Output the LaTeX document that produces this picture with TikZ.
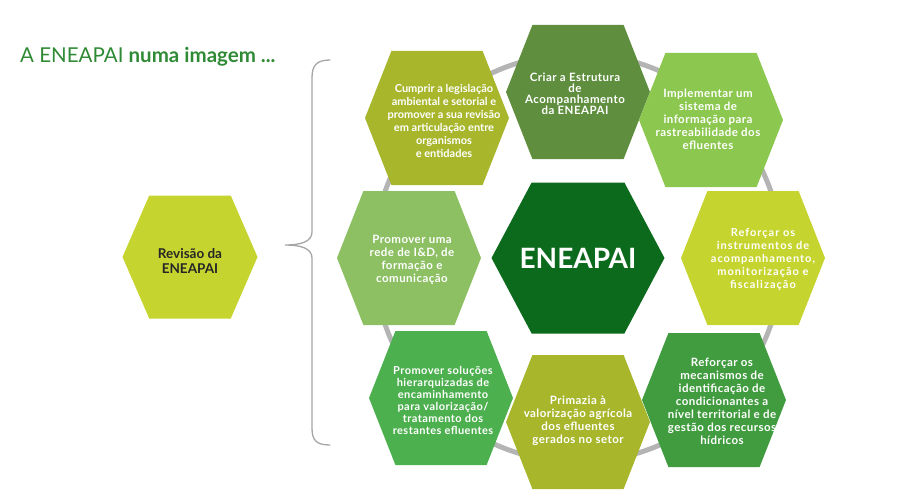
\documentclass[tikz,border=0pt]{standalone}
\usepackage{fontspec}
\setmainfont{Lato}
\newfontfamily\hexfont[LetterSpace=4]{Lato}
\newfontfamily\widefont[LetterSpace=9]{Lato}
\usepackage{tikz}
\usetikzlibrary{positioning, shapes.symbols}
\definecolor{olivegreen}{HTML}{A8B62C}
\definecolor{midgreen}{HTML}{5E8E3E}
\definecolor{lightgreen}{HTML}{8CC850}
\definecolor{limegreen}{HTML}{C6D42F}
\definecolor{grassgreen}{HTML}{419C3F}
\definecolor{brightgreen}{HTML}{4DB04F}
\definecolor{sagegreen}{HTML}{8CC063}
\definecolor{darkgreen}{HTML}{0C6A1D}
\definecolor{titlegreen}{HTML}{2F8A35}
\definecolor{ringgray}{HTML}{B4B4B4}
\tikzset{
    hexa/.style={
        signal, signal to=west and east,
        signal pointer angle=137,
        minimum width=144pt, minimum height=134pt,
        inner sep=0pt, draw=none, fill=#1
    },
    hextxt/.style={
        text=white, align=center, inner sep=0pt,
        font=\hexfont\bfseries\fontsize{11.5}{13}\selectfont
    },
    ring/.style={draw=ringgray, line width=5pt},
    brace/.style={draw=gray!70, line width=1.3pt, line cap=round}
}

\begin{document}
\begin{tikzpicture}[x=1pt, y=-1pt]
    \useasboundingbox (0,0) rectangle (904,495);

    \node[anchor=base west, inner sep=0pt, text=titlegreen, font=\fontsize{20.5}{24}\selectfont] (title) at (20,63) {A ENEAPAI \textbf{numa imagem ...}};

    % ring behind the hexagons
    \draw[ring] (578,258) circle (204);

    \node[hexa=darkgreen, signal pointer angle=124, minimum width=173pt, minimum height=151pt] (eneapai) at (578,258) {};
    \node[hextxt, font=\bfseries\fontsize{28}{30}\selectfont] (eneapai-txt) at (eneapai) {ENEAPAI};

    \node[hexa=midgreen] (criar) at (578,92) {};
    \node[hexa=lightgreen] (implementar) at (711,120) {};
    \node[hexa=limegreen] (instrumentos) at (753,258) {};
    \node[hexa=grassgreen] (mecanismos) at (714,400) {};
    \node[hexa=olivegreen] (primazia) at (578,422) {};
    \node[hexa=brightgreen] (solucoes) at (441,398) {};
    \node[hexa=sagegreen] (rede) at (409,258) {};
    \node[hexa=olivegreen] (cumprir) at (437,118) {};

    \node[hextxt, font=\hexfont\bfseries\fontsize{11.5}{11}\selectfont] (criar-txt) at ([shift={(-3,2)}]criar) {Criar a Estrutura\\de\\Acompanhamento\\da ENEAPAI};
    \node[hextxt] (implementar-txt) at ([shift={(-3,-1)}]implementar) {Implementar um\\sistema de\\informação para\\rastreabilidade dos\\efluentes};
    \node[hextxt, font=\widefont\bfseries\fontsize{11}{13}\selectfont] (instrumentos-txt) at ([shift={(10,1)}]instrumentos) {Reforçar os\\instrumentos de\\acompanhamento,\\monitorização e\\fiscalização};
    \node[hextxt] (mecanismos-txt) at ([shift={(8,1)}]mecanismos) {Reforçar os\\mecanismos de\\identificação de\\condicionantes a\\nível territorial e de\\gestão dos recursos\\hídricos};
    \node[hextxt] (primazia-txt) at ([shift={(0,-1)}]primazia) {Primazia à\\valorização agrícola\\dos efluentes\\gerados no setor};
    \node[hextxt, font=\hexfont\bfseries\fontsize{11}{12}\selectfont] (solucoes-txt) at ([shift={(2,2)}]solucoes) {Promover soluções\\hierarquizadas de\\encaminhamento\\para valorização/\\tratamento dos\\restantes efluentes};
    \node[hextxt] (rede-txt) at ([shift={(3,2)}]rede) {Promover uma\\rede de I\&D, de\\formação e\\comunicação};
    \node[hextxt, font=\bfseries\fontsize{11}{13}\selectfont] (cumprir-txt) at ([shift={(7,3)}]cumprir) {Cumprir a legislação\\ambiental e setorial e\\promover a sua revisão\\em articulação entre\\organismos\\e entidades};

    % review hexagon and brace
    \node[hexa=limegreen, signal pointer angle=133, minimum width=135pt, minimum height=123pt] (revisao) at (190,257) {};
    \node[hextxt, text=black!85, font=\bfseries\fontsize{13.5}{15}\selectfont] (revisao-txt) at ([shift={(0,4)}]revisao) {Revisão da\\ENEAPAI};

    \draw[brace] (330,60) .. controls (316,60) and (312,66) .. (312,78) -- (312,232)
        .. controls (312,242) and (300,245) .. (285,245)
        .. controls (300,245) and (312,248) .. (312,258) -- (312,428)
        .. controls (312,440) and (316,445) .. (330,445);
\end{tikzpicture}
\end{document}
